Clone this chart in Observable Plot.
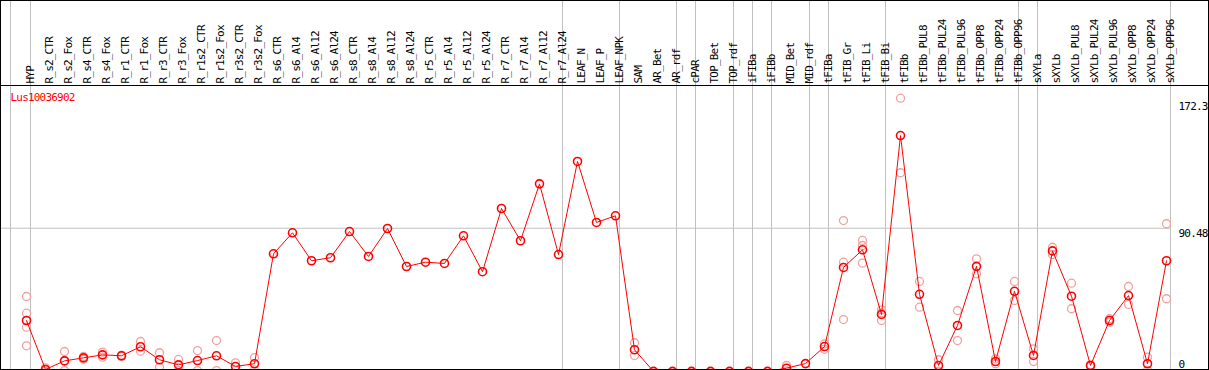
<!DOCTYPE html>
<html><head><meta charset="utf-8">
<script src="https://cdn.jsdelivr.net/npm/d3@7"></script>
<script src="https://cdn.jsdelivr.net/npm/@observablehq/plot@0.6"></script>
<style>
body{margin:0;background:#fff}
#chart{position:relative;width:1209px;height:370px;overflow:hidden;background:#fff}
#chart svg{display:block;position:absolute;left:0;top:0}
#border{position:absolute;left:0;top:0;width:1207px;height:368px;border:1px solid #000;pointer-events:none}
#sep{position:absolute;left:0;top:85px;width:1209px;height:1px;background:#000;pointer-events:none}
</style></head><body>
<div id="chart"><div id="border"></div><div id="sep"></div></div>
<script>
const title = "Lus10036902";
const samples = ["HYP","R_s2_CTR","R_s2_Fox","R_s4_CTR","R_s4_Fox","R_r1_CTR","R_r1_Fox","R_r3_CTR","R_r3_Fox","R_r1s2_CTR","R_r1s2_Fox","R_r3s2_CTR","R_r3s2_Fox","R_s6_CTR","R_s6_Al4","R_s6_Al12","R_s6_Al24","R_s8_CTR","R_s8_Al4","R_s8_Al12","R_s8_Al24","R_r5_CTR","R_r5_Al4","R_r5_Al12","R_r5_Al24","R_r7_CTR","R_r7_Al4","R_r7_Al12","R_r7_Al24","LEAF_N","LEAF_P","LEAF_NPK","SAM","AR_Bet","AR_rdf","cPAR","TOP_Bet","TOP_rdf","iFIBa","iFIBb","MID_Bet","MID_rdf","tFIBa","tFIB_Gr","tFIB_Li","tFIB_Bi","tFIBb","tFIBb_PUL8","tFIBb_PUL24","tFIBb_PUL96","tFIBb_OPP8","tFIBb_OPP24","tFIBb_OPP96","sXYLa","sXYLb","sXYLb_PUL8","sXYLb_PUL24","sXYLb_PUL96","sXYLb_OPP8","sXYLb_OPP24","sXYLb_OPP96"];
const means = [32.4,1.6,7.0,8.9,10.8,10.2,15.9,7.7,4.5,7.2,10.2,3.5,5.2,74.4,87.6,70.0,71.9,88.4,72.7,90.3,66.4,69.1,68.3,85.7,63.1,102.9,82.6,118.4,73.9,132.5,94.1,98.3,14.0,0.4,0.4,0.4,0.4,0.4,0.4,0.4,2.4,5.3,16.0,65.8,76.9,36.2,148.8,48.9,4.1,29.3,66.5,6.6,50.8,10.4,76.2,47.7,4.1,32.4,48.1,5.2,70.0];
const reps = [[47.5,37.0,28.2,16.5],[0.6,2.6],[12.9,7.2,0.9],[9.8,8.0],[12.5,9.3],[10.6,9.8],[19.2,13.1],[12.1,3.0],[7.9,0.9],[13.5,0.9],[19.8,0.9],[5.8,1.2],[9.1,1.3],
[],[],[],[],[],[],[],[],[],[],[],[],[],[],[],[],[],[],[],
[18.4,10.4],[],[],[],[],[],[],[],[4.1,0.7],[],[17.7,14.3],[95.3,69.1,33.0],[82.8,79.6,68.5],[39.1,32.4,37.1],[172.3,125.4],[57.0,40.8],[7.7,0.5],[38.7,19.8],[71.2,61.8],[8.3,5.2],[57.0,45.0],[14.6,6.6],[78.5,73.9],[55.9,39.8],[4.5,3.7],[33.5,31.3],[53.8,42.5],[9.3,1.1],[93.3,46.1]];
const yTicks = [172.3, 90.48, 0];
const groupStarts = ["HYP"];
const groupEnds = ["HYP","R_r7_Al24","LEAF_NPK","AR_rdf","cPAR","TOP_rdf","iFIBa","iFIBb","MID_rdf","tFIBa","tFIB_Bi","tFIBb_OPP96","sXYLa","sXYLb_OPP96"];

const meanRows = samples.map((s, i) => ({sample: s, value: means[i]}));
const repRows = samples.flatMap((s, i) => reps[i].map(v => ({sample: s, value: v})));

const chart = Plot.plot({
  width: 1209, height: 370,
  marginTop: 0, marginBottom: 0, marginLeft: 0, marginRight: 39,
  style: {fontFamily: "'DejaVu Sans Mono', monospace", fontSize: "11px", letterSpacing: "-0.8px", background: "transparent", overflow: "hidden"},
  x: {type: "point", domain: samples, range: [26, 1166], padding: 0, axis: null},
  y: {domain: [0, yTicks[0]], range: [371.5, 97.7], axis: null},
  marks: [
    Plot.ruleX(groupStarts, {x: d => d, dx: -16, stroke: "#c0c0c0"}),
    Plot.ruleX(groupEnds, {x: d => d, dx: 4, stroke: "#c0c0c0"}),
    Plot.ruleY([yTicks[1]], {y: d => d, stroke: "#c0c0c0"}),
    Plot.text(samples, {x: d => d, frameAnchor: "top", dy: 83, rotate: -90, textAnchor: "start", fill: "black"}),
    Plot.text([title], {frameAnchor: "top-left", dx: 10, dy: 93, textAnchor: "start", fill: "red"}),
    Plot.text([yTicks[0]], {y: d => d, text: d => String(d), frameAnchor: "right", dx: 8, textAnchor: "start", lineAnchor: "top", dy: 4, fill: "black"}),
    Plot.text([yTicks[1]], {y: d => d, text: d => String(d), frameAnchor: "right", dx: 8, textAnchor: "start", lineAnchor: "top", dy: 1, fill: "black"}),
    Plot.text([yTicks[2]], {y: d => d, text: d => String(d), frameAnchor: "right", dx: 8, textAnchor: "start", lineAnchor: "bottom", dy: -4, fill: "black"}),
    Plot.dot(repRows, {x: "sample", y: "value", r: 4, stroke: "#f2a0a0", strokeWidth: 1.3}),
    Plot.line(meanRows, {x: "sample", y: "value", stroke: "red", strokeWidth: 1}),
    Plot.dot(meanRows, {x: "sample", y: "value", r: 4, stroke: "red", strokeWidth: 1.6})
  ]
});
document.getElementById("chart").prepend(chart);
</script>
</body></html>
